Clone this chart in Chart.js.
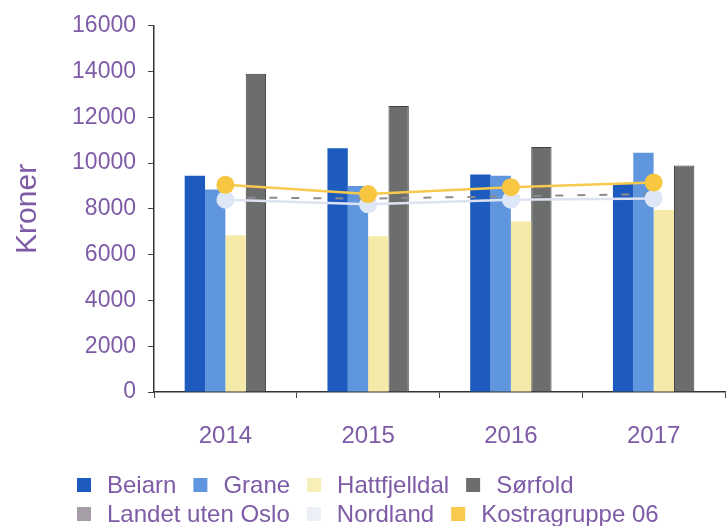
<!DOCTYPE html>
<html>
<head>
<meta charset="utf-8">
<title>Kroner per år</title>
<script src="https://cdn.jsdelivr.net/npm/chart.js@4/dist/chart.umd.min.js"></script>
<style>
  html, body { margin: 0; padding: 0; background: #fff; overflow: hidden; }
  #wrap { width: 734px; height: 526px; }
</style>
</head>
<body>
<div id="wrap"><canvas id="myChart" width="734" height="526"></canvas></div>
<script>
// years on the x axis
var years = ['2014', '2015', '2016', '2017'];

// bar series (kroner)
var beiarn       = [9450, 10650, 9500, 9100];
var grane        = [8850, 9000, 9450, 10450];
var hattfjelldal = [6850, 6800, 7450, 7950];
var sorfold      = [13900, 12500, 10700, 9900];

// line series (kroner)
var landetUtenOslo = [8500, 8450, 8550, 8650];
var nordland       = [8400, 8200, 8400, 8450];
var kostragruppe   = [9050, 8650, 8950, 9150];

// y axis
var yMin = 0, yMax = 16000, yStep = 2000;

var textColor = '#7d5ba6';
var fontFamily = '"Liberation Sans", Arial, sans-serif';

// legend drawn in two rows under the axis
var legendRows = [[0, 1, 2, 3], [4, 5, 6]];

var legendPlugin = {
    id: 'rowLegend',
    afterDraw: function (chart) {
        var ctx = chart.ctx;
        var ds = chart.data.datasets;
        var rowY = [485, 514];
        ctx.save();
        ctx.font = '24px ' + fontFamily;
        ctx.textBaseline = 'middle';
        ctx.textAlign = 'left';
        legendRows.forEach(function (row, r) {
            var x = 77;
            row.forEach(function (i) {
                ctx.fillStyle = ds[i].legendColor;
                ctx.fillRect(x, rowY[r] - 7, 14, 14);
                x += 30;
                ctx.fillStyle = textColor;
                ctx.fillText(ds[i].label, x, rowY[r] + 1);
                x += ctx.measureText(ds[i].label).width + 17;
            });
        });
        ctx.restore();
    }
};

var ctx = document.getElementById('myChart').getContext('2d');
var chart = new Chart(ctx, {
    type: 'bar',
    data: {
        labels: years,
        datasets: [
            { label: 'Beiarn', data: beiarn, backgroundColor: '#1d5bbf', legendColor: '#1d5bbf', order: 3 },
            { label: 'Grane', data: grane, backgroundColor: '#5f96dd', legendColor: '#5f96dd', order: 3 },
            { label: 'Hattfjelldal', data: hattfjelldal, backgroundColor: '#f6eaa8', legendColor: '#f7efb8', order: 3 },
            { label: 'Sørfold', data: sorfold, backgroundColor: '#6b6e6d', borderColor: '#404241',
              borderWidth: 1, legendColor: '#6b6e6d', order: 3 },
            { type: 'line', label: 'Landet uten Oslo', data: landetUtenOslo, borderColor: '#8f8a90',
              borderWidth: 2, borderDash: [8, 14], pointRadius: 0, legendColor: '#a69ea6', order: 2 },
            { type: 'line', label: 'Nordland', data: nordland, borderColor: '#dde3f2',
              borderWidth: 2.5, pointRadius: 9, pointBackgroundColor: '#dde7f7', pointBorderWidth: 0,
              legendColor: '#eceff5', order: 1 },
            { type: 'line', label: 'Kostragruppe 06', data: kostragruppe, borderColor: '#f7c94c',
              borderWidth: 2.5, pointRadius: 9, pointBackgroundColor: '#f8c640', pointBorderWidth: 0,
              legendColor: '#f8c94a', order: 0 }
        ]
    },
    options: {
        responsive: false,
        animation: false,
        layout: { padding: { left: 0, right: 0, top: 7, bottom: 74 } },
        datasets: {
            bar: { barPercentage: 1.0, categoryPercentage: 0.57 }
        },
        plugins: {
            legend: { display: false },
            tooltip: { enabled: false }
        },
        scales: {
            x: {
                grid: { drawOnChartArea: false, drawTicks: true, tickLength: 6, color: '#444', offset: true },
                border: { display: true, color: '#333', width: 1.5 },
                ticks: { color: textColor, font: { family: fontFamily, size: 24 }, padding: 24 },
                afterFit: function (scale) { scale.height = 60; }
            },
            y: {
                min: yMin,
                max: yMax,
                ticks: {
                    stepSize: yStep,
                    color: textColor,
                    font: { family: fontFamily, size: 23 },
                    padding: 12,
                    callback: function (v) { return String(v); }
                },
                grid: { drawOnChartArea: false, drawTicks: true, tickLength: 6, color: '#444' },
                border: { display: true, color: '#333', width: 1.5 },
                title: {
                    display: true,
                    text: 'Kroner',
                    color: textColor,
                    font: { family: fontFamily, size: 30 },
                    padding: { top: 10, bottom: 4 }
                },
                afterFit: function (scale) { scale.width = 154; }
            }
        }
    },
    plugins: [legendPlugin]
});
</script>
</body>
</html>
